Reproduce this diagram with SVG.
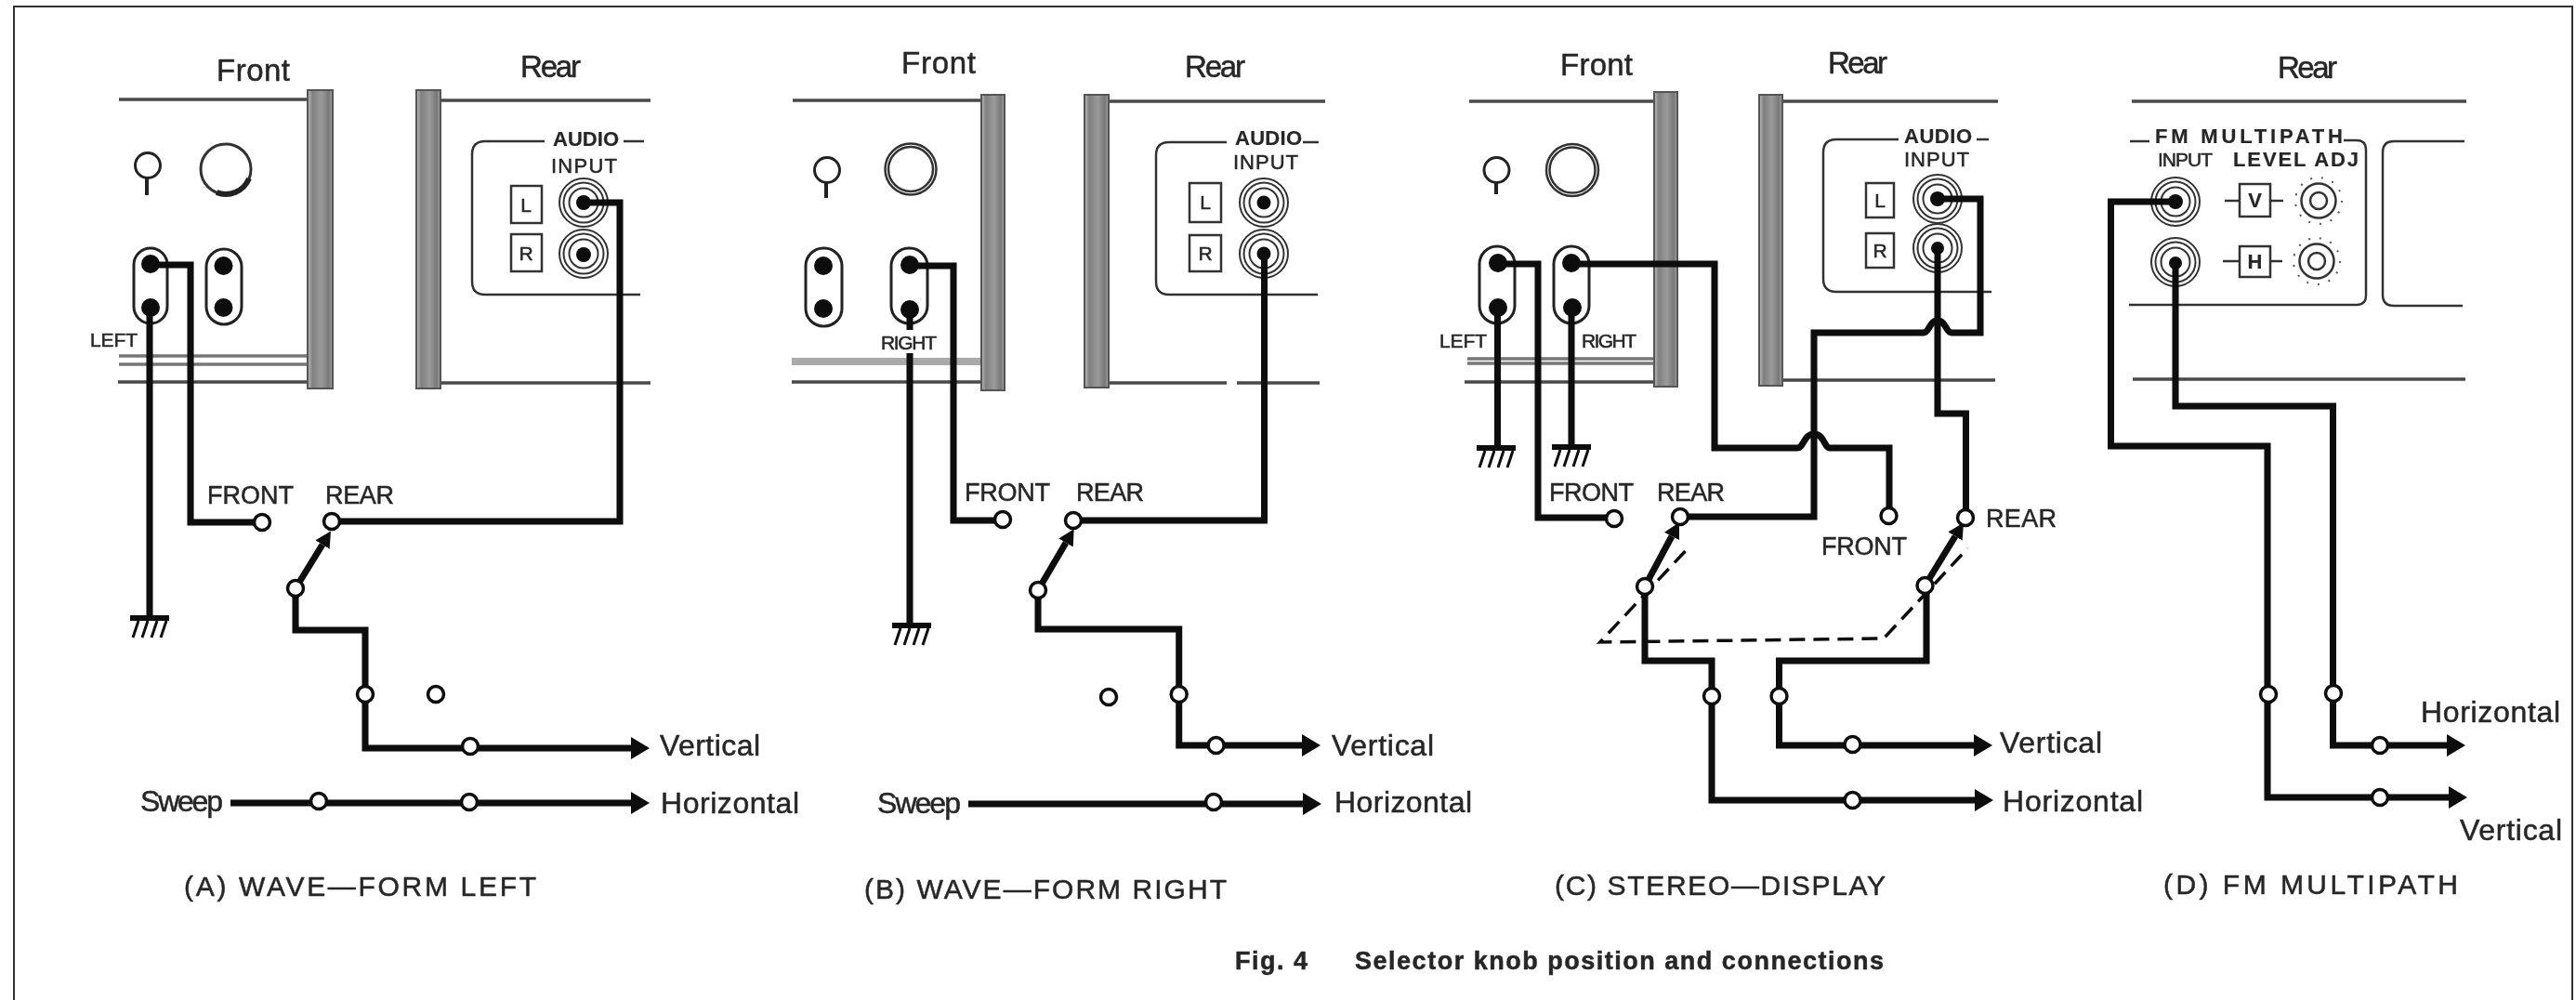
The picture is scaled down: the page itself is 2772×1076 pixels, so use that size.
<svg xmlns="http://www.w3.org/2000/svg" width="2772" height="1076" viewBox="0 0 2772 1076">
<style>
text{font-family:"Liberation Sans",Arial,sans-serif;fill:#262626;stroke:#262626;stroke-width:.5}
.h{font-size:33px}.l{font-size:32px}.s{font-size:27px}.c{font-size:30px}.m{font-size:21px}.b{font-size:22px;font-weight:bold;stroke-width:.2}.n{font-size:22px}
.t{font-size:27px;font-weight:bold}
.line{fill:none;stroke:#4a4a4a;stroke-width:3.5}
.thin{fill:none;stroke:#333;stroke-width:2.5}
.box{fill:#fff;stroke:#333;stroke-width:2.5}
.ring{fill:#fff;stroke:#333;stroke-width:2}
.bar{fill:url(#barfill);stroke:#555;stroke-width:2}
.dbl{fill:none;stroke:#777;stroke-width:3.5}
.cap{fill:#fff;stroke:#222;stroke-width:3}
.dot{fill:#0a0a0a}
.w{fill:none;stroke:#0a0a0a;stroke-width:7;stroke-linejoin:miter}
.a{marker-end:url(#arr)}
.sw{fill:none;stroke:#0a0a0a;stroke-width:7;marker-end:url(#swa)}
.dash{fill:none;stroke:#111;stroke-width:3.5;stroke-dasharray:17 9}
.term{fill:#fff;stroke:#111;stroke-width:3.5}
.tick{fill:none;stroke:#555;stroke-width:2;stroke-dasharray:2 10}
</style>
<defs>
<linearGradient id="barfill" x1="0" x2="1" y1="0" y2="0"><stop offset="0" stop-color="#bbb"/><stop offset=".2" stop-color="#808080"/><stop offset=".55" stop-color="#9a9a9a"/><stop offset=".85" stop-color="#777"/><stop offset="1" stop-color="#aaa"/></linearGradient>
<marker id="arr" viewBox="0 0 20 24" refX="0" refY="12" markerWidth="20" markerHeight="24" markerUnits="userSpaceOnUse" orient="auto"><path d="M0,0L20,12L0,24Z" fill="#0a0a0a"/></marker>
<marker id="swa" viewBox="0 0 17 18" refX="0" refY="9" markerWidth="17" markerHeight="18" markerUnits="userSpaceOnUse" orient="auto"><path d="M0,0L17,9L0,18Z" fill="#0a0a0a"/></marker>
<g id="jack"><circle r="26" class="ring"/><circle r="21.500" class="ring"/><circle r="15.500" class="ring"/></g>
<g id="gnd" fill="none" stroke="#111"><path d="M-21,0H21" stroke-width="6"/><path d="M-12,3L-18,21M-2,3L-8,21M8,3L2,21M18,3L12,21" stroke-width="3"/></g>
<g id="lvl"><circle r="18.5" class="box"/><circle r="9" class="box"/><circle r="25" class="tick"/></g>
<filter id="soft" x="0" y="0" width="100%" height="100%"><feGaussianBlur stdDeviation="0.7"/></filter>
</defs>
<rect width="2772" height="1076" fill="#fff"/>
<g filter="url(#soft)">
<path id="frame" d="M14,1076V6H2769V1076" fill="none" stroke="#333" stroke-width="4"/>

<!-- PANEL A -->
<g id="a-front">
<text class="h" x="233" y="87" textLength="79">Front</text>
<path class="line" d="M128,107H331M127,411H331"/>
<path class="dbl" d="M128,383H331M128,392H331"/>
<rect class="bar" x="331" y="97" width="27" height="321"/>
<circle cx="159" cy="178" r="13.5" class="cap"/><path d="M158,192V210" stroke="#222" stroke-width="4"/>
<circle cx="243" cy="182" r="27" class="box" style="stroke-width:3"/><path d="M268,192A27,27 0 0 1 233,207" fill="none" stroke="#222" stroke-width="6"/>
<rect class="cap" x="144" y="267" width="36" height="81" rx="18"/><circle class="dot" cx="162" cy="284" r="10"/><circle class="dot" cx="162" cy="331" r="10"/>
<rect class="cap" x="222" y="268" width="38" height="81" rx="19"/><circle class="dot" cx="240.500" cy="286" r="10"/><circle class="dot" cx="240.500" cy="331" r="10"/>
<text class="m" x="97" y="373" textLength="51">LEFT</text>
</g>
<g id="a-rear">
<text class="h" x="560" y="83" textLength="65">Rear</text>
<path class="line" d="M474,108H700M474,412H700"/>
<rect class="bar" x="448" y="97" width="26" height="321"/>
<path class="thin" d="M586,152H522Q508,152 508,166V303Q508,317 522,317H689M671,152H693"/>
<text class="b" x="595" y="157" textLength="71">AUDIO</text>
<text class="n" x="593" y="186" textLength="71">INPUT</text>
<rect class="box" x="550" y="200" width="33" height="40"/><text class="m" x="566" y="228" text-anchor="middle">L</text>
<rect class="box" x="550" y="252" width="33" height="40"/><text class="m" x="566" y="280" text-anchor="middle">R</text>
<use href="#jack" x="628" y="218"/><circle class="dot" cx="628" cy="218" r="8"/>
<use href="#jack" x="628" y="273"/><circle class="dot" cx="628" cy="274" r="8"/>
</g>

<!-- PANEL B -->
<g id="b-front">
<text class="h" x="970" y="79" textLength="80">Front</text>
<path class="line" d="M853,108H1056M852,411H1056"/>
<rect x="852" y="385" width="204" height="8" fill="#aaa"/>
<rect class="bar" x="1056" y="102" width="25" height="318"/>
<circle cx="890" cy="183" r="13.500" class="cap"/><path d="M889,197V213" stroke="#222" stroke-width="4"/>
<circle cx="980" cy="182" r="27.500" class="box"/><circle cx="980" cy="182" r="24" class="thin"/>
<rect class="cap" x="867" y="267" width="39" height="84" rx="19"/><circle class="dot" cx="886" cy="286" r="10"/><circle class="dot" cx="886" cy="332" r="10"/>
<rect class="cap" x="959" y="267" width="39" height="81" rx="19"/><circle class="dot" cx="979" cy="285" r="10"/><circle class="dot" cx="979" cy="333" r="10"/>
<text class="m" x="948" y="376" textLength="60">RIGHT</text>
</g>
<g id="b-rear">
<text class="h" x="1275" y="83" textLength="65">Rear</text>
<path class="line" d="M1193,109H1426M1193,412H1320M1331,412H1420"/>
<rect class="bar" x="1167" y="102" width="26" height="315"/>
<path class="thin" d="M1320,153H1258Q1244,153 1244,167V303Q1244,317 1258,317H1418M1402,153H1419"/>
<text class="b" x="1329" y="156" textLength="72">AUDIO</text>
<text class="n" x="1327" y="182" textLength="70">INPUT</text>
<rect class="box" x="1280" y="197" width="34" height="42"/><text class="m" x="1297" y="225" text-anchor="middle">L</text>
<rect class="box" x="1280" y="253" width="34" height="39"/><text class="m" x="1297" y="280" text-anchor="middle">R</text>
<use href="#jack" x="1360" y="218"/><circle class="dot" cx="1360" cy="218" r="7.500"/>
<use href="#jack" x="1360" y="273"/><circle class="dot" cx="1360" cy="273" r="7.500"/>
</g>

<!-- PANEL C -->
<g id="c-front">
<text class="h" x="1679" y="81" textLength="78">Front</text>
<path class="line" d="M1581,109H1780M1576,411H1780"/>
<path class="dbl" d="M1579,386H1780M1579,391H1780"/>
<rect class="bar" x="1780" y="99" width="25" height="317"/>
<circle cx="1610.500" cy="183" r="13.500" class="cap"/><path d="M1610,197V209" stroke="#222" stroke-width="4"/>
<circle cx="1692" cy="183" r="28" class="box"/><circle cx="1692" cy="183" r="24.500" class="thin"/>
<rect class="cap" x="1592" y="265" width="38" height="83" rx="19"/><circle class="dot" cx="1612" cy="283" r="10"/><circle class="dot" cx="1612" cy="331" r="10"/>
<rect class="cap" x="1672" y="265" width="38" height="83" rx="19"/><circle class="dot" cx="1691" cy="283" r="10"/><circle class="dot" cx="1692" cy="331" r="10"/>
<text class="m" x="1549" y="374" textLength="51">LEFT</text>
<text class="m" x="1702" y="374" textLength="59">RIGHT</text>
</g>
<g id="c-rear">
<text class="h" x="1967" y="79" textLength="64">Rear</text>
<path class="line" d="M1918,109H2150M1918,409H2147"/>
<rect class="bar" x="1893" y="102" width="25" height="313"/>
<path class="thin" d="M2043,150H1976Q1962,150 1962,164V300Q1962,314 1976,314H2143M2127,150H2140"/>
<text class="b" x="2049" y="154" textLength="73">AUDIO</text>
<text class="n" x="2049" y="179" textLength="70">INPUT</text>
<rect class="box" x="2008" y="197" width="30" height="37"/><text class="m" x="2023" y="223" text-anchor="middle">L</text>
<rect class="box" x="2008" y="251" width="30" height="37"/><text class="m" x="2023" y="277" text-anchor="middle">R</text>
<use href="#jack" x="2085" y="214"/><circle class="dot" cx="2085" cy="214" r="8"/>
<use href="#jack" x="2085" y="267"/><circle class="dot" cx="2085" cy="267" r="7"/>
</g>

<!-- PANEL D -->
<g id="d-rear">
<text class="h" x="2451" y="84" textLength="64">Rear</text>
<path class="line" d="M2294,109H2654M2295,408H2653"/>
<path class="thin" d="M2292,152H2313M2522,151H2536Q2546,151 2546,161V318Q2546,328 2536,328H2291"/>
<path class="thin" d="M2652,152H2576Q2564,152 2564,164V317Q2564,329 2576,329H2650"/>
<text class="b" x="2319" y="154" textLength="202">FM MULTIPATH</text>
<text class="m" x="2322" y="179" textLength="59">INPUT</text>
<text class="b" x="2403" y="179" textLength="135">LEVEL ADJ</text>
<use href="#jack" x="2341" y="217"/><circle class="dot" cx="2341" cy="217" r="8"/>
<use href="#jack" x="2341" y="282"/><circle class="dot" cx="2341" cy="283" r="7"/>
<path class="thin" d="M2394,216H2457M2392,281H2456"/>
<rect class="box" x="2410" y="198" width="33" height="35"/><text class="b" x="2426.500" y="223" text-anchor="middle">V</text>
<rect class="box" x="2410" y="265" width="33" height="33"/><text class="b" x="2426.500" y="289" text-anchor="middle">H</text>
<use href="#lvl" x="2495" y="216"/><use href="#lvl" x="2493" y="281"/>
</g>

<!-- CONNECTORS -->
<g id="connectors">
<path class="w" d="M161,331V665"/>
<path class="w" d="M162,285H205V562H282"/>
<path class="w" d="M357,561H667V218H628"/>
<path class="sw" d="M318,633L347,586"/>
<path class="w a" d="M318,633V678H393V805H679"/>
<path class="w a" d="M248,864H679"/>

<path class="w" d="M979,333V355M979,380V673"/>
<path class="w" d="M979,286H1026V560H1079"/>
<path class="w" d="M1155,560H1360.500V273"/>
<path class="sw" d="M1117,635L1147,584"/>
<path class="w a" d="M1117,635V677H1268.700V802H1401"/>
<path class="w a" d="M1042,865H1402"/>

<path class="w" d="M1611.500,331V482"/>
<path class="w" d="M1691,331V481"/>
<path class="w" d="M1612,284H1655V557H1737"/>
<path class="w" d="M1808,556H1952V358H2070C2076,358 2076,345 2085,345C2094,345 2094,358 2100,358H2131V214H2085"/>
<path class="w" d="M2085,267V445H2115.500V557"/>
<path class="w" d="M1691,284H1845V482H1934C1941,482 1941,467 1952,467C1963,467 1963,482 1969,482H2033V555"/>
<path class="sw" d="M1770,631L1799,577"/>
<path class="sw" d="M2071.500,630L2104,577"/>
<path class="dash" d="M1813.500,593L1721.700,691L2027,687L2117.400,590"/>
<path class="w a" d="M1770,631V711H1842V861H2125"/>
<path class="w a" d="M2073,630V711H1914.500V802H2124"/>

<path class="w a" d="M2341,217H2271.500V480H2440V858H2635"/>
<path class="w a" d="M2341,282V437H2510.500V802H2633"/>
</g>
<use href="#gnd" x="161" y="665"/><use href="#gnd" x="981" y="673"/><use href="#gnd" x="1610" y="482"/><use href="#gnd" x="1691" y="481"/>

<!-- TERMINALS / LABELS -->
<g id="a-terminals">
<circle class="term" cx="282" cy="562" r="8.500"/><circle class="term" cx="357" cy="561" r="8.500"/><circle class="term" cx="318" cy="633" r="8.500"/><circle class="term" cx="393" cy="747" r="8.500"/><circle class="term" cx="469" cy="747" r="8.500"/><circle class="term" cx="506" cy="803" r="8.500"/><circle class="term" cx="343" cy="862" r="8.500"/><circle class="term" cx="505" cy="863" r="8.500"/>
<text class="s" x="223" y="542" textLength="93">FRONT</text><text class="s" x="350" y="542" textLength="74">REAR</text>
<text class="l" x="710" y="813" textLength="108">Vertical</text><text class="l" x="151" y="873" textLength="89">Sweep</text><text class="l" x="711" y="875" textLength="149">Horizontal</text>
<text class="c" x="198" y="964" textLength="379">(A)  WAVE—FORM  LEFT</text>
</g>
<g id="b-terminals">
<circle class="term" cx="1079" cy="559" r="8.500"/><circle class="term" cx="1155" cy="560" r="8.500"/><circle class="term" cx="1117" cy="635" r="8.500"/><circle class="term" cx="1268.700" cy="747" r="8.500"/><circle class="term" cx="1193" cy="750" r="8.500"/><circle class="term" cx="1308.600" cy="802" r="8.500"/><circle class="term" cx="1306" cy="863" r="8.500"/>
<text class="s" x="1038" y="539" textLength="92">FRONT</text><text class="s" x="1158" y="539" textLength="73">REAR</text>
<text class="l" x="1433" y="813" textLength="110">Vertical</text><text class="l" x="944" y="875" textLength="90">Sweep</text><text class="l" x="1436" y="874" textLength="148">Horizontal</text>
<text class="c" x="930" y="967" textLength="390">(B)  WAVE—FORM  RIGHT</text>
</g>
<g id="c-terminals">
<circle class="term" cx="1737" cy="558" r="8.500"/><circle class="term" cx="1808" cy="556" r="8.500"/><circle class="term" cx="2032.500" cy="555" r="8.500"/><circle class="term" cx="2115" cy="557" r="8.500"/><circle class="term" cx="1770" cy="631" r="8.500"/><circle class="term" cx="2071.500" cy="630" r="8.500"/><circle class="term" cx="1842" cy="749" r="8.500"/><circle class="term" cx="1914.500" cy="749" r="8.500"/><circle class="term" cx="1993.500" cy="801" r="8.500"/><circle class="term" cx="1993.500" cy="861" r="8.500"/>
<text class="s" x="1667" y="539" textLength="91">FRONT</text><text class="s" x="1783" y="539" textLength="73">REAR</text><text class="s" x="1960" y="597" textLength="92">FRONT</text><text class="s" x="2137" y="567" textLength="76">REAR</text>
<text class="l" x="2152" y="810" textLength="110">Vertical</text><text class="l" x="2155" y="873" textLength="151">Horizontal</text>
<text class="c" x="1673" y="963" textLength="356">(C)  STEREO—DISPLAY</text>
</g>
<g id="d-terminals">
<circle class="term" cx="2441" cy="747" r="8.500"/><circle class="term" cx="2511" cy="746" r="8.500"/><circle class="term" cx="2561" cy="802" r="8.500"/><circle class="term" cx="2561" cy="858" r="8.500"/>
<text class="l" x="2605" y="777" textLength="150">Horizontal</text><text class="l" x="2647" y="904" textLength="110">Vertical</text>
<text class="c" x="2328" y="962" textLength="317">(D)  FM  MULTIPATH</text>
</g>
<g id="caption">
<text class="t" x="1329" y="1043" textLength="78">Fig. 4</text>
<text class="t" x="1458" y="1043" textLength="569">Selector knob position and connections</text>
</g>
</g>
</svg>
